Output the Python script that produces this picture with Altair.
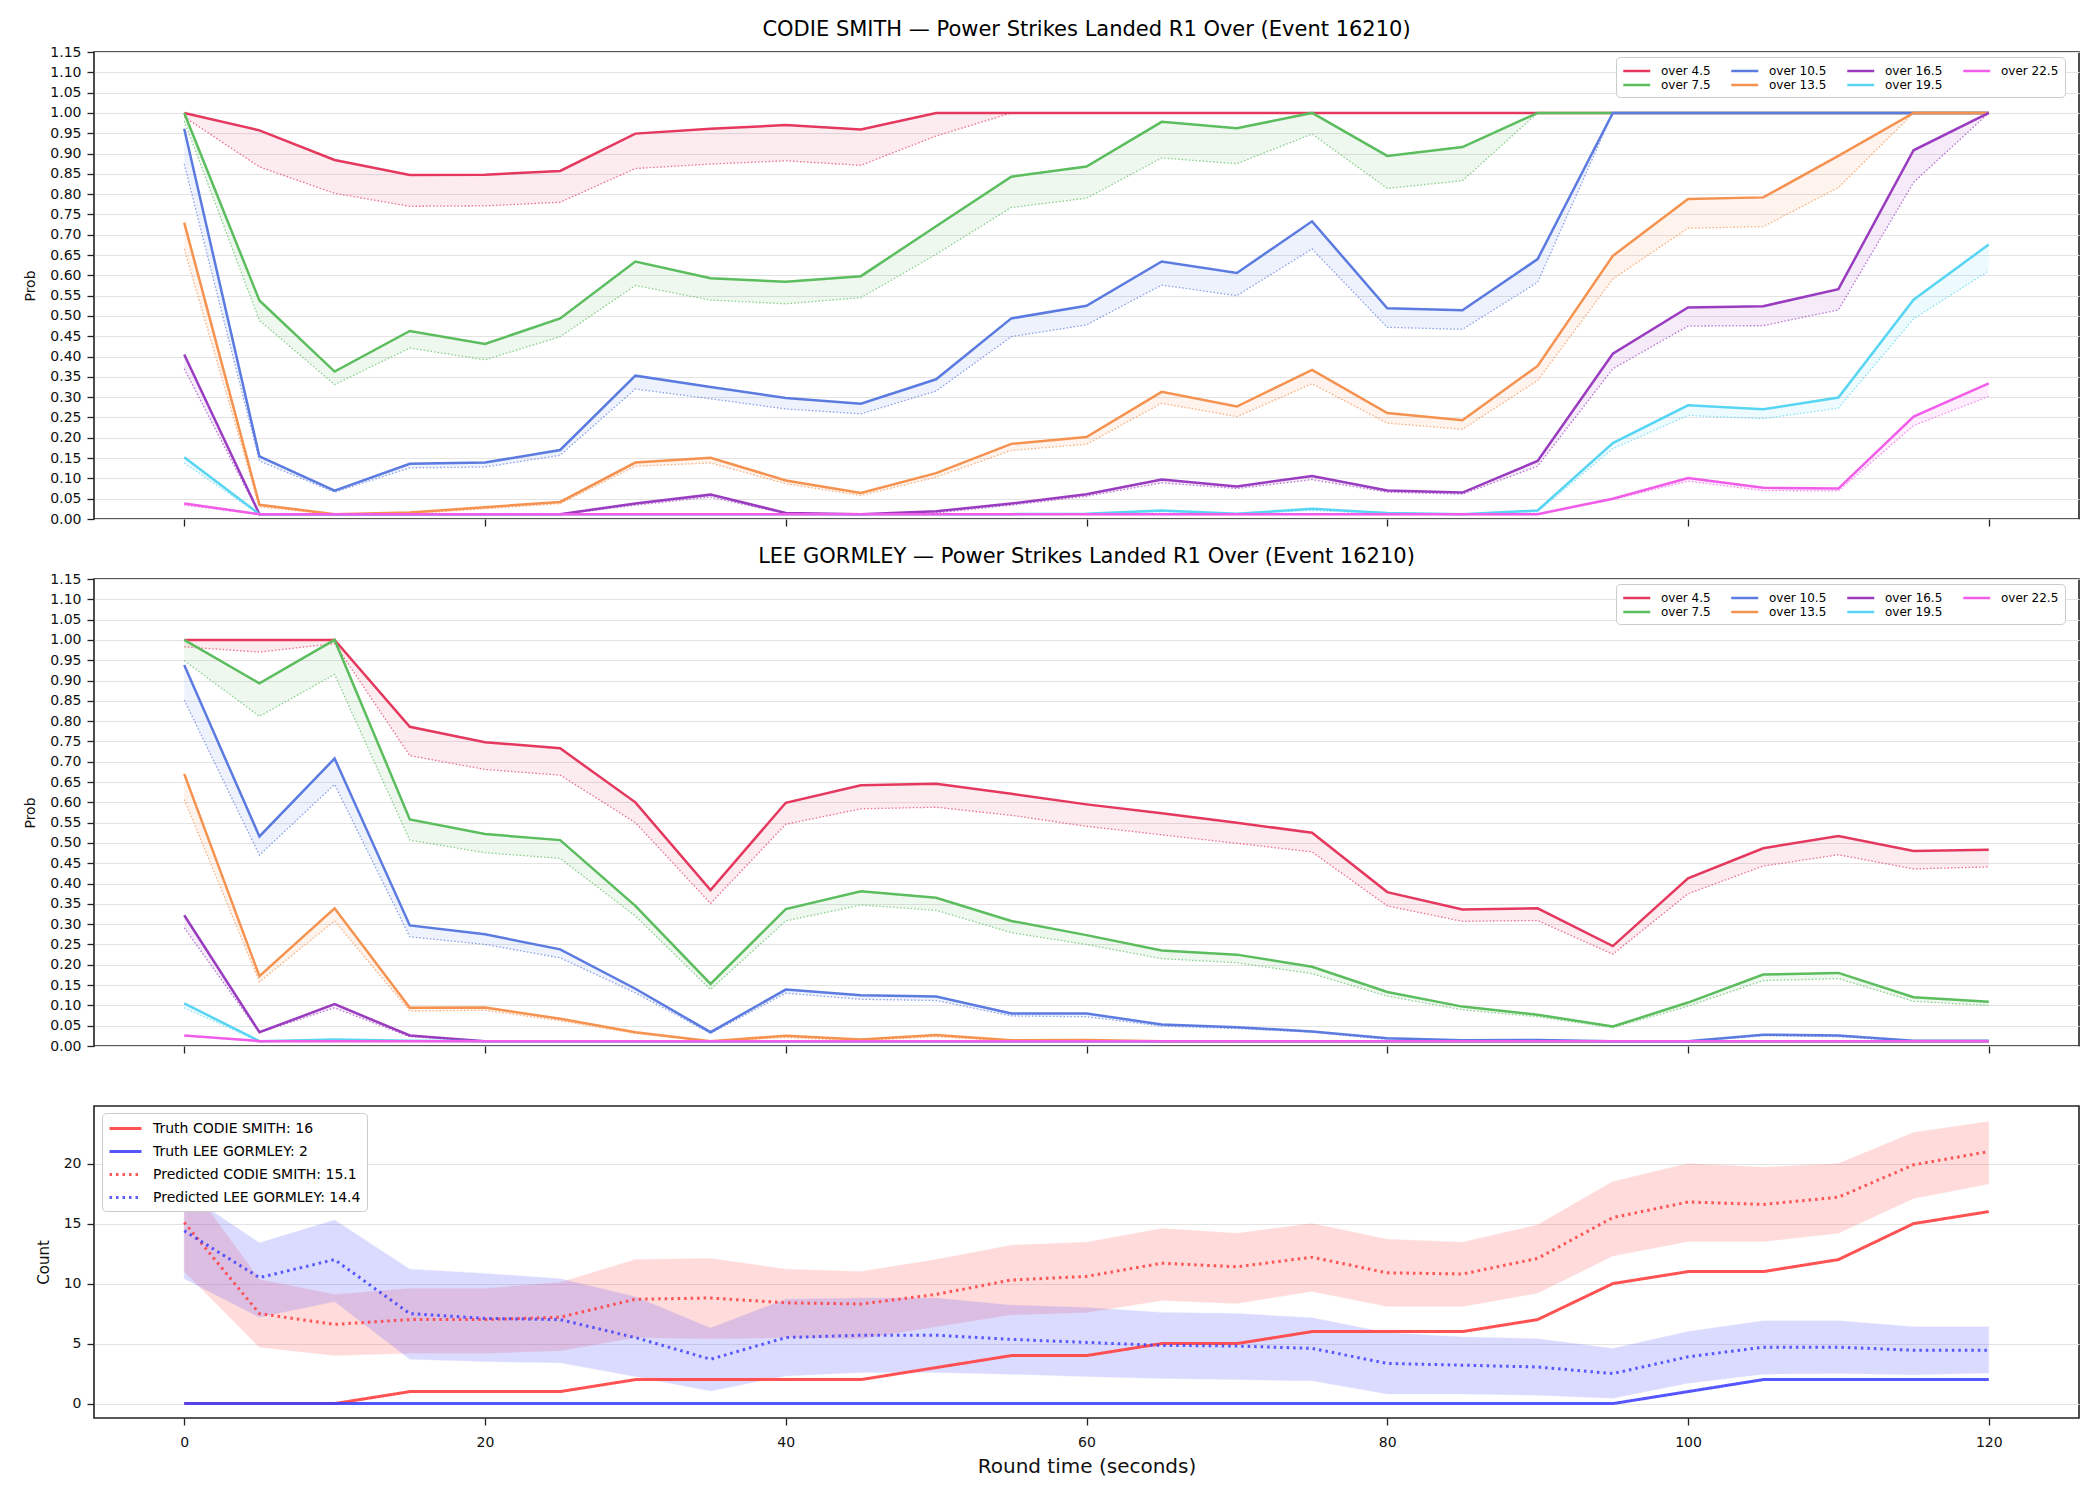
import altair as alt
import pandas as pd

# ---------------------------------------------------------------- data
TIMES = [0, 5, 10, 15, 20, 25, 30, 35, 40, 45, 50, 55, 60,
         65, 70, 75, 80, 85, 90, 95, 100, 105, 110, 115, 120]

THRESHOLDS = ["over 4.5", "over 7.5", "over 10.5", "over 13.5",
              "over 16.5", "over 19.5", "over 22.5"]

TIME_TICKS = [0, 20, 40, 60, 80, 100, 120]
PROB_TICKS = [0.00, 0.05, 0.10, 0.15, 0.20, 0.25, 0.30, 0.35, 0.40, 0.45, 0.50, 0.55,
              0.60, 0.65, 0.70, 0.75, 0.80, 0.85, 0.90, 0.95, 1.00, 1.05, 1.10, 1.15]
COUNT_TICKS = [0, 5, 10, 15, 20]

# CODIE SMITH: upper (solid) and lower (dotted) probability per threshold
cs_hi_4_5 = [1.0, 0.957, 0.884, 0.847, 0.848, 0.857, 0.949, 0.961, 0.970, 0.959, 1.0, 1.0, 1.0,
             1.0, 1.0, 1.0, 1.0, 1.0, 1.0, 1.0, 1.0, 1.0, 1.0, 1.0, 1.0]
cs_lo_4_5 = [0.99, 0.867, 0.802, 0.770, 0.771, 0.780, 0.863, 0.874, 0.882, 0.871, 0.943, 1.0, 1.0,
             1.0, 1.0, 1.0, 1.0, 1.0, 1.0, 1.0, 1.0, 1.0, 1.0, 1.0, 1.0]
cs_hi_7_5 = [1.0, 0.538, 0.363, 0.463, 0.431, 0.494, 0.634, 0.593, 0.584, 0.598, 0.721, 0.843, 0.868,
             0.978, 0.962, 1.0, 0.894, 0.916, 1.0, 1.0, 1.0, 1.0, 1.0, 1.0, 1.0]
cs_lo_7_5 = [0.98, 0.489, 0.331, 0.421, 0.392, 0.449, 0.575, 0.539, 0.530, 0.545, 0.652, 0.767, 0.790,
             0.889, 0.875, 0.948, 0.814, 0.833, 1.0, 1.0, 1.0, 1.0, 1.0, 1.0, 1.0]
cs_hi_10_5 = [0.961, 0.154, 0.070, 0.136, 0.139, 0.170, 0.353, 0.325, 0.298, 0.284, 0.344, 0.494, 0.525,
              0.634, 0.606, 0.733, 0.519, 0.514, 0.640, 1.0, 1.0, 1.0, 1.0, 1.0, 1.0]
cs_lo_10_5 = [0.874, 0.143, 0.066, 0.126, 0.128, 0.157, 0.320, 0.296, 0.271, 0.259, 0.315, 0.449, 0.478,
              0.576, 0.550, 0.665, 0.472, 0.467, 0.583, 1.0, 1.0, 1.0, 1.0, 1.0, 1.0]
cs_hi_13_5 = [0.730, 0.035, 0.012, 0.016, 0.029, 0.042, 0.139, 0.151, 0.095, 0.064, 0.113, 0.185, 0.202,
              0.313, 0.277, 0.367, 0.261, 0.243, 0.377, 0.648, 0.788, 0.792, 0.894, 1.0, 1.0]
cs_lo_13_5 = [0.665, 0.030, 0.011, 0.013, 0.025, 0.038, 0.130, 0.138, 0.087, 0.058, 0.103, 0.169, 0.184,
              0.285, 0.252, 0.333, 0.236, 0.221, 0.341, 0.591, 0.716, 0.720, 0.816, 1.0, 1.0]
cs_hi_16_5 = [0.405, 0.012, 0.012, 0.012, 0.012, 0.012, 0.038, 0.060, 0.015, 0.012, 0.019, 0.038, 0.061,
              0.097, 0.080, 0.106, 0.070, 0.065, 0.143, 0.407, 0.521, 0.524, 0.566, 0.908, 1.0]
cs_lo_16_5 = [0.370, 0.011, 0.011, 0.011, 0.011, 0.011, 0.034, 0.054, 0.013, 0.011, 0.015, 0.034, 0.056,
              0.089, 0.075, 0.097, 0.066, 0.061, 0.130, 0.370, 0.475, 0.476, 0.515, 0.829, 1.0]
cs_hi_19_5 = [0.152, 0.012, 0.012, 0.012, 0.012, 0.012, 0.012, 0.012, 0.012, 0.012, 0.012, 0.012, 0.013,
              0.021, 0.013, 0.025, 0.015, 0.012, 0.021, 0.187, 0.280, 0.270, 0.299, 0.540, 0.676]
cs_lo_19_5 = [0.138, 0.011, 0.011, 0.011, 0.011, 0.011, 0.011, 0.011, 0.011, 0.011, 0.011, 0.011, 0.012,
              0.018, 0.012, 0.021, 0.013, 0.011, 0.018, 0.173, 0.255, 0.247, 0.273, 0.493, 0.611]
cs_hi_22_5 = [0.038, 0.012, 0.012, 0.012, 0.012, 0.012, 0.012, 0.012, 0.012, 0.012, 0.012, 0.012, 0.012,
              0.012, 0.012, 0.012, 0.012, 0.012, 0.012, 0.050, 0.101, 0.077, 0.075, 0.252, 0.334]
cs_lo_22_5 = [0.034, 0.011, 0.011, 0.011, 0.011, 0.011, 0.011, 0.011, 0.011, 0.011, 0.011, 0.011, 0.011,
              0.011, 0.011, 0.011, 0.011, 0.011, 0.011, 0.048, 0.093, 0.070, 0.069, 0.230, 0.302]

# LEE GORMLEY: upper (solid) and lower (dotted) probability per threshold
lg_hi_4_5 = [1.0, 1.0, 1.0, 0.786, 0.748, 0.733, 0.600, 0.384, 0.599, 0.642, 0.646, 0.621, 0.595,
             0.573, 0.550, 0.525, 0.379, 0.336, 0.339, 0.246, 0.413, 0.487, 0.517, 0.480, 0.483]
lg_lo_4_5 = [0.983, 0.970, 0.991, 0.715, 0.681, 0.667, 0.550, 0.351, 0.546, 0.584, 0.588, 0.568, 0.541,
             0.520, 0.499, 0.478, 0.345, 0.307, 0.309, 0.226, 0.375, 0.443, 0.471, 0.436, 0.441]
lg_hi_7_5 = [1.0, 0.893, 1.0, 0.558, 0.522, 0.507, 0.345, 0.153, 0.337, 0.381, 0.365, 0.308, 0.273,
             0.235, 0.225, 0.195, 0.133, 0.097, 0.077, 0.048, 0.107, 0.176, 0.180, 0.120, 0.109]
lg_lo_7_5 = [0.949, 0.812, 0.915, 0.507, 0.476, 0.462, 0.320, 0.139, 0.308, 0.347, 0.334, 0.279, 0.250,
             0.215, 0.205, 0.178, 0.123, 0.089, 0.072, 0.045, 0.098, 0.161, 0.166, 0.110, 0.100]
lg_hi_10_5 = [0.938, 0.516, 0.708, 0.297, 0.275, 0.238, 0.141, 0.034, 0.139, 0.125, 0.122, 0.080, 0.080,
              0.053, 0.046, 0.036, 0.019, 0.014, 0.015, 0.012, 0.012, 0.028, 0.026, 0.013, 0.013]
lg_lo_10_5 = [0.852, 0.470, 0.644, 0.269, 0.250, 0.217, 0.131, 0.031, 0.130, 0.115, 0.112, 0.074, 0.072,
              0.049, 0.043, 0.034, 0.016, 0.012, 0.013, 0.011, 0.011, 0.025, 0.023, 0.011, 0.011]
lg_hi_13_5 = [0.670, 0.172, 0.339, 0.094, 0.095, 0.067, 0.034, 0.012, 0.025, 0.016, 0.027, 0.014, 0.015,
              0.012, 0.012, 0.012, 0.012, 0.012, 0.012, 0.012, 0.012, 0.012, 0.012, 0.012, 0.012]
lg_lo_13_5 = [0.607, 0.158, 0.308, 0.086, 0.088, 0.062, 0.031, 0.011, 0.021, 0.013, 0.023, 0.012, 0.012,
              0.011, 0.011, 0.011, 0.011, 0.011, 0.011, 0.011, 0.011, 0.011, 0.011, 0.011, 0.011]
lg_hi_16_5 = [0.322, 0.034, 0.103, 0.026, 0.012, 0.012, 0.012, 0.012, 0.012, 0.012, 0.012, 0.012, 0.012,
              0.012, 0.012, 0.012, 0.012, 0.012, 0.012, 0.012, 0.012, 0.012, 0.012, 0.012, 0.012]
lg_lo_16_5 = [0.291, 0.033, 0.094, 0.023, 0.011, 0.011, 0.011, 0.011, 0.011, 0.011, 0.011, 0.011, 0.011,
              0.011, 0.011, 0.011, 0.011, 0.011, 0.011, 0.011, 0.011, 0.011, 0.011, 0.011, 0.011]
lg_hi_19_5 = [0.105, 0.012, 0.016, 0.013, 0.012, 0.012, 0.012, 0.012, 0.012, 0.012, 0.012, 0.012, 0.012,
              0.012, 0.012, 0.012, 0.012, 0.012, 0.012, 0.012, 0.012, 0.012, 0.012, 0.012, 0.012]
lg_lo_19_5 = [0.094, 0.011, 0.014, 0.012, 0.011, 0.011, 0.011, 0.011, 0.011, 0.011, 0.011, 0.011, 0.011,
              0.011, 0.011, 0.011, 0.011, 0.011, 0.011, 0.011, 0.011, 0.011, 0.011, 0.011, 0.011]
lg_hi_22_5 = [0.026, 0.012, 0.012, 0.012, 0.012, 0.012, 0.012, 0.012, 0.012, 0.012, 0.012, 0.012, 0.012,
              0.012, 0.012, 0.012, 0.012, 0.012, 0.012, 0.012, 0.012, 0.012, 0.012, 0.012, 0.012]
lg_lo_22_5 = [0.025, 0.011, 0.011, 0.011, 0.011, 0.011, 0.011, 0.011, 0.011, 0.011, 0.011, 0.011, 0.011,
              0.011, 0.011, 0.011, 0.011, 0.011, 0.011, 0.011, 0.011, 0.011, 0.011, 0.011, 0.011]

# Cumulative counts: truth and predicted mean with its band
truth_cs = [0, 0, 0, 1, 1, 1, 2, 2, 2, 2, 3, 4, 4, 5, 5, 6, 6, 6, 7, 10, 11, 11, 12, 15, 16]
truth_lg = [0, 0, 0, 0, 0, 0, 0, 0, 0, 0, 0, 0, 0, 0, 0, 0, 0, 0, 0, 0, 1, 2, 2, 2, 2]
pred_cs = [15.1, 7.5, 6.6, 7.0, 7.0, 7.2, 8.7, 8.8, 8.4, 8.3, 9.1, 10.3, 10.6,
           11.7, 11.4, 12.2, 10.9, 10.8, 12.1, 15.5, 16.8, 16.6, 17.2, 19.9, 21.0]
pred_cs_lo = [11.0, 4.7, 4.0, 4.2, 4.2, 4.4, 5.5, 5.4, 5.5, 5.4, 6.4, 7.4, 7.6,
              8.6, 8.35, 9.35, 8.1, 8.1, 9.2, 12.3, 13.5, 13.5, 14.2, 17.1, 18.3]
pred_cs_hi = [18.9, 10.35, 9.1, 9.6, 9.6, 10.1, 12.0, 12.1, 11.2, 11.0, 12.0, 13.2, 13.45,
              14.6, 14.2, 15.0, 13.7, 13.45, 14.9, 18.5, 20.0, 19.7, 20.0, 22.6, 23.5]
pred_lg = [14.4, 10.5, 12.0, 7.5, 7.1, 7.0, 5.5, 3.7, 5.5, 5.7, 5.7, 5.35, 5.1,
           4.85, 4.8, 4.6, 3.35, 3.2, 3.05, 2.5, 3.9, 4.7, 4.7, 4.45, 4.45]
pred_lg_lo = [10.4, 7.2, 8.5, 3.7, 3.5, 3.4, 2.25, 1.05, 2.3, 2.6, 2.6, 2.45, 2.25,
              2.1, 2.0, 1.9, 0.8, 0.8, 0.7, 0.45, 1.7, 2.45, 2.5, 2.4, 2.55]
pred_lg_hi = [17.6, 13.4, 15.3, 11.2, 10.85, 10.4, 8.9, 6.3, 8.7, 8.8, 8.8, 8.2, 8.0,
              7.6, 7.5, 7.15, 5.9, 5.55, 5.4, 4.6, 6.0, 6.9, 6.9, 6.4, 6.4]

# ---------------------------------------------------------------- style
FONT = "DejaVu Sans"
PALETTE = {
    "over 4.5": "#e5385e",
    "over 7.5": "#5bbd5e",
    "over 10.5": "#5b7be0",
    "over 13.5": "#f5924f",
    "over 16.5": "#9a3cc0",
    "over 19.5": "#58d5f2",
    "over 22.5": "#f15de8",
}
RED = "#ff4040"
BLUE = "#4040ff"
# legend key: a horizontal stroke starting at the entry's left edge
KEY_PATH = "M-1,0H3"

PLOT_W = 1985
PROB_H = 467
COUNT_H = 312

x_scale = alt.Scale(domain=[-6, 126], nice=False, zero=False)


def prob_panel(title, hi_lists, lo_lists):
    rows = []
    for name, hi, lo in zip(THRESHOLDS, hi_lists, lo_lists):
        for t, h, l in zip(TIMES, hi, lo):
            rows.append({"t": t, "series": name, "hi": h, "lo": l})
    df = pd.DataFrame(rows)

    color_scale = alt.Scale(domain=THRESHOLDS, range=[PALETTE[k] for k in THRESHOLDS])
    x = alt.X("t:Q", scale=x_scale,
              axis=alt.Axis(values=TIME_TICKS, labels=False, title=None, grid=False))
    y_scale = alt.Scale(domain=[0, 1.15], nice=False, zero=False)
    y_axis = alt.Axis(values=PROB_TICKS, format=".2f", title="Prob", grid=True,
                      titleFontSize=14, titlePadding=12)

    base = alt.Chart(df)
    band = base.mark_area(opacity=0.1).encode(
        x=x,
        y=alt.Y("lo:Q", scale=y_scale, axis=y_axis, stack=None),
        y2="hi:Q",
        color=alt.Color("series:N", scale=color_scale, legend=None),
    )
    lower = base.mark_line(strokeWidth=1.3, strokeDash=[1.5, 2], opacity=0.7).encode(
        x=x,
        y=alt.Y("lo:Q", scale=y_scale, axis=y_axis),
        color=alt.Color("series:N", scale=color_scale, legend=None),
    )
    # two rows, four columns, filled column by column
    upper = base.mark_line(strokeWidth=2.5).encode(
        x=x,
        y=alt.Y("hi:Q", scale=y_scale, axis=y_axis),
        color=alt.Color(
            "series:N", scale=color_scale,
            legend=alt.Legend(
                title=None, orient="none", legendX=1522, legendY=5, columns=4,
                direction="vertical",
                symbolType=KEY_PATH, symbolStrokeWidth=2.5, symbolSize=182,
                labelFontSize=12, labelFont=FONT, labelOffset=23, labelLimit=500,
                columnPadding=15, rowPadding=0, padding=6,
                fillColor="white", strokeColor="#cccccc", cornerRadius=4,
            ),
        ),
    )
    return (
        alt.layer(band, lower, upper)
        .resolve_legend(color="independent")
        .properties(
            width=PLOT_W, height=PROB_H,
            title=alt.Title(title, fontSize=21, fontWeight="normal", font=FONT,
                            color="#000000", anchor="middle", offset=5),
        )
    )


top = prob_panel(
    "CODIE SMITH \u2014 Power Strikes Landed R1 Over (Event 16210)",
    [cs_hi_4_5, cs_hi_7_5, cs_hi_10_5, cs_hi_13_5, cs_hi_16_5, cs_hi_19_5, cs_hi_22_5],
    [cs_lo_4_5, cs_lo_7_5, cs_lo_10_5, cs_lo_13_5, cs_lo_16_5, cs_lo_19_5, cs_lo_22_5],
)
mid = prob_panel(
    "LEE GORMLEY \u2014 Power Strikes Landed R1 Over (Event 16210)",
    [lg_hi_4_5, lg_hi_7_5, lg_hi_10_5, lg_hi_13_5, lg_hi_16_5, lg_hi_19_5, lg_hi_22_5],
    [lg_lo_4_5, lg_lo_7_5, lg_lo_10_5, lg_lo_13_5, lg_lo_16_5, lg_lo_19_5, lg_lo_22_5],
)

# ---------------------------------------------------------------- counts panel
lbl_truth_cs = f"Truth CODIE SMITH: {truth_cs[-1]}"
lbl_truth_lg = f"Truth LEE GORMLEY: {truth_lg[-1]}"
lbl_pred_cs = f"Predicted CODIE SMITH: {pred_cs[0]}"
lbl_pred_lg = f"Predicted LEE GORMLEY: {pred_lg[0]}"
SERIES = [lbl_truth_cs, lbl_truth_lg, lbl_pred_cs, lbl_pred_lg]

line_rows = []
for name, vals in zip(SERIES, [truth_cs, truth_lg, pred_cs, pred_lg]):
    for t, v in zip(TIMES, vals):
        line_rows.append({"t": t, "series": name, "value": v})
lines_df = pd.DataFrame(line_rows)

band_cs = pd.DataFrame({"t": TIMES, "lo": pred_cs_lo, "hi": pred_cs_hi})
band_lg = pd.DataFrame({"t": TIMES, "lo": pred_lg_lo, "hi": pred_lg_hi})

cx = alt.X("t:Q", scale=x_scale,
           axis=alt.Axis(values=TIME_TICKS, title="Round time (seconds)", grid=False,
                         titleFontSize=20, titlePadding=7, labelPadding=10))
cy_scale = alt.Scale(domain=[-1.2, 24.8], nice=False, zero=False)
cy_axis = alt.Axis(values=COUNT_TICKS, title="Count", grid=True, titleFontSize=15, titlePadding=12)


def count_band(df, colour):
    return alt.Chart(df).mark_area(
        color=colour, opacity=0.18, stroke=colour, strokeOpacity=0.25, strokeWidth=1
    ).encode(
        x=cx,
        y=alt.Y("lo:Q", scale=cy_scale, axis=cy_axis),
        y2="hi:Q",
    )


count_legend = alt.Legend(
    title=None, orient="none", legendX=8, legendY=7,
    symbolType=KEY_PATH, symbolSize=256, symbolStrokeWidth=3,
    labelFontSize=14, labelFont=FONT, labelOffset=26, labelLimit=500,
    rowPadding=6, padding=6,
    fillColor="white", strokeColor="#cccccc", cornerRadius=4,
)

count_lines = alt.Chart(lines_df).mark_line().encode(
    x=cx,
    y=alt.Y("value:Q", scale=cy_scale, axis=cy_axis),
    color=alt.Color("series:N", scale=alt.Scale(domain=SERIES, range=[RED, BLUE, RED, BLUE]),
                    legend=count_legend),
    strokeDash=alt.StrokeDash("series:N", scale=alt.Scale(
        domain=SERIES, range=[[1, 0], [1, 0], [2.5, 4], [2.5, 4]]), legend=count_legend),
    opacity=alt.Opacity("series:N", scale=alt.Scale(domain=SERIES, range=[0.9, 0.85, 0.75, 0.75]),
                        legend=count_legend),
    strokeWidth=alt.StrokeWidth("series:N", scale=alt.Scale(domain=SERIES, range=[3, 3, 2.8, 2.8]),
                                legend=count_legend),
)

bottom = alt.layer(count_band(band_cs, RED), count_band(band_lg, BLUE), count_lines).properties(
    width=PLOT_W, height=COUNT_H
)

chart = (
    alt.vconcat(top, mid, bottom, spacing=60, bounds="flush")
    .resolve_scale(color="independent", strokeDash="independent",
                   opacity="independent", strokeWidth="independent")
    .resolve_legend(color="independent", strokeDash="independent",
                    opacity="independent", strokeWidth="independent")
    .properties(padding={"left": 23, "top": 18, "right": 10, "bottom": 10})
    .configure(font=FONT)
    .configure_view(stroke="#222222", strokeWidth=1.6)
    .configure_axis(
        domain=False, tickColor="#222222", tickSize=7, tickWidth=1.3,
        labelFont=FONT, labelFontSize=14, labelColor="#111111", labelPadding=6,
        titleFont=FONT, titleFontWeight="normal", titleColor="#111111",
        gridColor="#e3e3e3", gridWidth=1,
    )
)

chart.save("out.html", embed_options={"renderer": "svg", "actions": False})
